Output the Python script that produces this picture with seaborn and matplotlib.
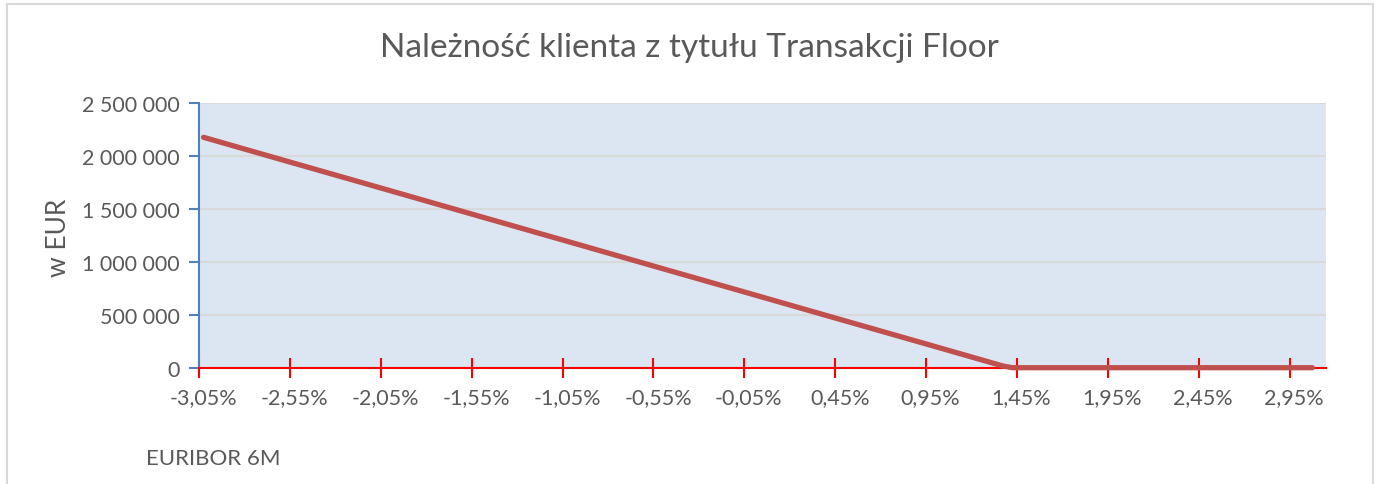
import numpy as np
import matplotlib
matplotlib.use("Agg")
import matplotlib.pyplot as plt
import matplotlib.ticker as mticker
from matplotlib.patches import Rectangle
import seaborn as sns

# EURIBOR 6M levels (%) and client receivable (EUR)
rates = [-3.05, -2.55, -2.05, -1.55, -1.05, -0.55, -0.05, 0.45, 0.95, 1.35, 1.40,
         1.45, 1.95, 2.45, 2.95, 3.05]
values = [2176000, 1930000, 1685000, 1439000, 1194000, 948000, 703000, 457000, 212000,
          15000, 0, 0, 0, 0, 0, 0]

label_rates = [-3.05, -2.55, -2.05, -1.55, -1.05, -0.55, -0.05, 0.45, 0.95, 1.45, 1.95, 2.45, 2.95]
y_ticks = [0, 500000, 1000000, 1500000, 2000000, 2500000]

title = "Należność klienta z tytułu Transakcji Floor"
x_title = "EURIBOR 6M"
y_title = "w EUR"

sns.set_style("white")
plt.rcParams["font.family"] = ["Lato", "DejaVu Sans"]
txt = "#595959"

fig = plt.figure(figsize=(13.79, 4.85), dpi=100)
ax = fig.add_axes([199 / 1379, 1 - 368.7 / 485, (1326 - 199) / 1379, (368.7 - 104) / 485])

# chart area border
fig.patches.append(Rectangle((7 / 1379, -0.05), (1373 - 7) / 1379, 1.05 - 5 / 485,
                             transform=fig.transFigure, fill=False,
                             edgecolor="#D9D9D9", linewidth=1.5))

ax.set_facecolor("#DCE6F2")
sns.lineplot(x=rates, y=values, ax=ax, color="#C0504D", linewidth=3.8,
             sort=True, solid_capstyle="round", zorder=5, clip_on=False)

ax.set_xlim(-3.075, 3.125)
ax.set_ylim(0, 2500000)

ax.set_yticks(y_ticks)
ax.yaxis.set_major_formatter(mticker.FuncFormatter(lambda v, p: f"{v:,.0f}".replace(",", " ")))
ax.grid(axis="y", color="#D9D9D9", linewidth=1.5)
ax.set_axisbelow(True)

# tick marks at category boundaries, labels at category centres
ax.set_xticks([r - 0.025 for r in label_rates])
ax.set_xticklabels([])
ax.set_xticks(label_rates, minor=True)
ax.set_xticklabels([f"{r:.2f}%".replace(".", ",") for r in label_rates], minor=True)
ax.tick_params(axis="x", which="major", bottom=True, direction="inout", length=14,
               width=1.5, color="#FF0000")
ax.tick_params(axis="x", which="minor", bottom=True, length=0, pad=14, labelsize=15.5,
               labelcolor=txt)
ax.tick_params(axis="y", left=True, direction="out", length=7, width=1.5, color="#4F81BD",
               pad=7, labelsize=15.5, labelcolor=txt)

for s in ["top", "right"]:
    ax.spines[s].set_visible(False)
ax.spines["left"].set_color("#4F81BD")
ax.spines["left"].set_linewidth(1.5)
ax.spines["bottom"].set_color("#FF0000")
ax.spines["bottom"].set_linewidth(1.5)
ax.spines["bottom"].set_zorder(4)

ax.set_xlabel("")
ax.set_ylabel("")
fig.text(689 / 1379, 1 - 48 / 485, title, ha="center", va="center", fontsize=24, color=txt)
fig.text(58 / 1379, 1 - 238 / 485, y_title, ha="center", va="center", rotation=90,
         fontsize=19, color=txt)
fig.text(146 / 1379, 1 - 459 / 485, x_title, ha="left", va="center", fontsize=16, color=txt)

fig.savefig("out.png", dpi=100)
